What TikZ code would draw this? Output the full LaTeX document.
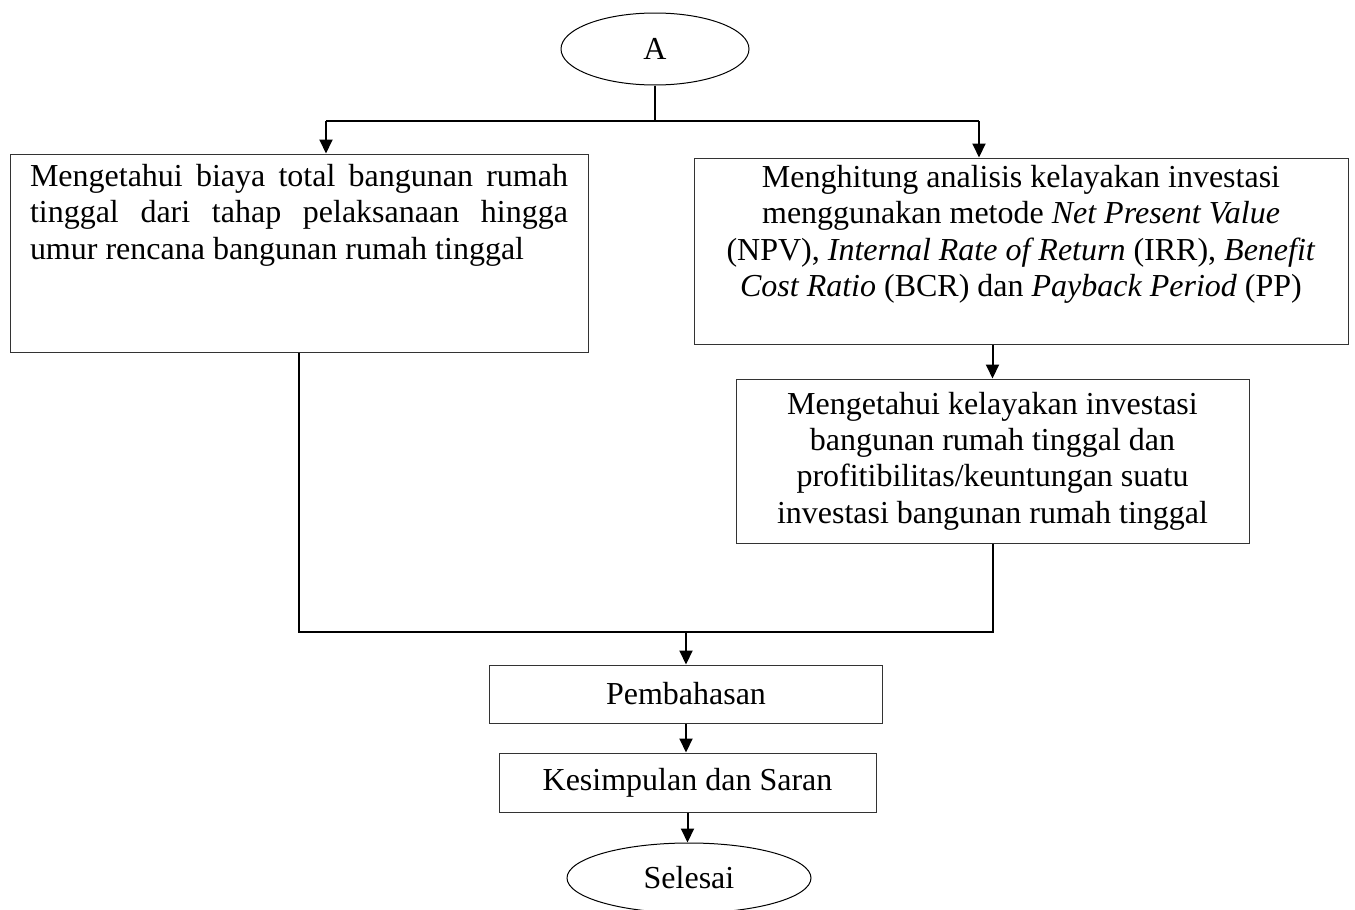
\documentclass[tikz,border=0pt]{standalone}
\usepackage{fontspec}
\setmainfont{Liberation Serif}
\usepackage{tikz}
\usetikzlibrary{shapes.geometric,arrows.meta,calc}

\begin{document}
\begin{tikzpicture}[x=0.5pt, y=-0.5pt,
        font=\fontsize{16}{18.2}\selectfont,
        kotak/.style={draw=black!80, line width=0.5pt, rectangle},
        oval/.style={draw=black, line width=0.5pt, ellipse, inner sep=0pt},
        garis/.style={line width=1pt},
        panah/.style={garis, -{Triangle[width=6.5pt,length=7pt]}}]

        % Fixes the page to the size of the reference
        \useasboundingbox (0, 0) rectangle (1355, 910);

        % Start and end ovals
        \node[oval, minimum width=94pt, minimum height=36pt] (A) at (655, 49) {A};
        \node[oval, minimum width=122pt, minimum height=35pt] (selesai) at (689, 878) {Selesai};

        % Boxes of the two branches
        \node[kotak, inner xsep=10pt, inner ysep=5pt] (biaya) at (299, 253)
            {\parbox[c][89pt][t]{269pt}{Mengetahui biaya total bangunan rumah\linebreak
            tinggal dari tahap pelaksanaan hingga\linebreak
            umur rencana bangunan rumah tinggal}};

        \node[kotak, inner xsep=5pt, inner ysep=3.5pt] (hitung) at (1021, 251)
            {\parbox[c][86pt][t]{317pt}{\centering Menghitung analisis kelayakan investasi\\
            menggunakan metode \textit{Net Present Value}\\
            (NPV), \textit{Internal Rate of Return} (IRR), \textit{Benefit}\\
            \textit{Cost Ratio} (BCR) dan \textit{Payback Period} (PP)}};

        \node[kotak, align=center, minimum width=256.5pt, minimum height=82pt] (layak) at (992.5, 461)
            {Mengetahui kelayakan investasi\\
            bangunan rumah tinggal dan\\
            profitibilitas/keuntungan suatu\\
            investasi bangunan rumah tinggal};

        % Boxes after the join
        \node[kotak, minimum width=196.5pt, minimum height=29pt] (bahas) at (686, 694) {Pembahasan};
        \node[kotak, minimum width=188.5pt, minimum height=29.5pt] (simpul) at (687.5, 782.5) {Kesimpulan dan Saran};

        % Split and join points
        \coordinate (cabang) at (655, 121);
        \coordinate (kiri) at (326, 121);
        \coordinate (kanan) at (979, 121);
        \coordinate (gabung) at (686, 632);

        \begin{scope}[garis]
            \draw (A.south) -- (cabang);
            \draw (kiri) -- (kanan);
            \draw[panah] (kiri) -- (kiri |- biaya.north);
            \draw[panah] (kanan) -- (kanan |- hitung.north);
            \draw[panah] (hitung.south -| layak.north) -- (layak.north);

            \draw (biaya.south) |- (gabung);
            \draw (layak.south) |- (gabung);
            \draw[panah] (gabung) -- (bahas.north);
            \draw[panah] (bahas.south) -- (bahas.south |- simpul.north);
            \draw[panah] (simpul.south) -- (simpul.south |- selesai.north);
        \end{scope}

\end{tikzpicture}
\end{document}
